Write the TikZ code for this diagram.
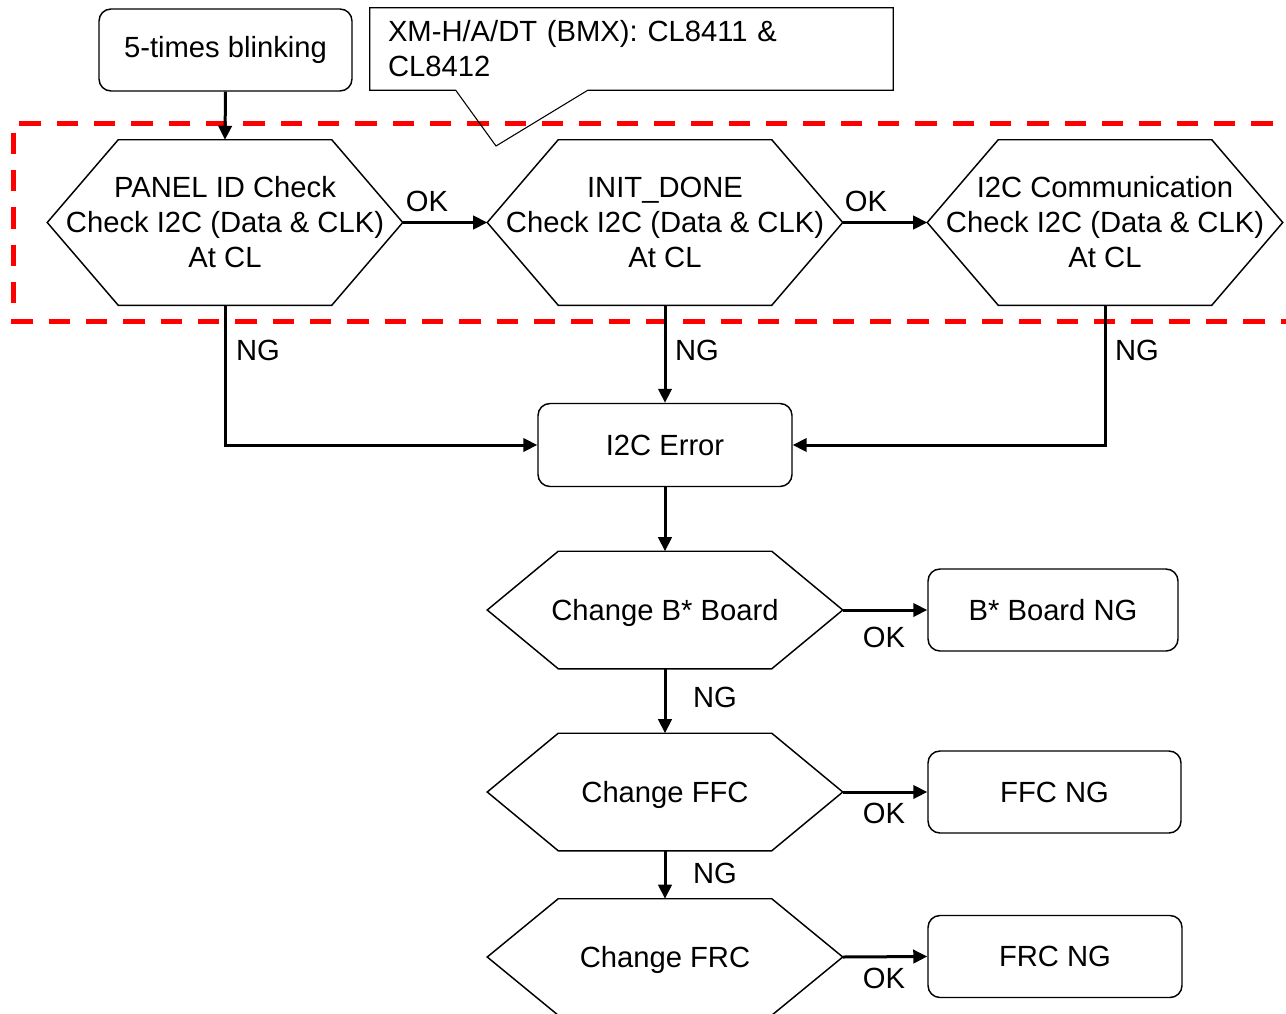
\documentclass[tikz,border=0pt]{standalone}
\usepackage{fontspec}
\setmainfont{Liberation Sans}
\usetikzlibrary{calc,arrows.meta}
\newcommand\lblfont{\fontsize{21.9}{26.25}\selectfont}
\newcommand\hexoutline[2]{%
  \draw[hexline] ($(#1.north west)+(#2,0)$) -- ($(#1.north east)+(-#2,0)$) -- (#1.east)
    -- ($(#1.south east)+(-#2,0)$) -- ($(#1.south west)+(#2,0)$) -- (#1.west) -- cycle;}
\begin{document}
\begin{tikzpicture}[x=0.75pt,y=-0.75pt,
  hexline/.style={draw, line width=1.1pt, line join=miter},
  hexnode/.style={inner sep=0pt, align=center, font=\lblfont, minimum width={355*0.75pt}},
  rbox/.style={draw, line width=1.1pt, rounded corners=9pt, align=center, font=\lblfont, inner sep=0pt},
  conn/.style={line width=2.25pt, -{Triangle[length=10.5pt,width=10pt]}},
  lab/.style={font=\lblfont, inner sep=0pt},
  groupbox/.style={draw=red, line width=3.75pt, dash pattern=on 16pt off 12pt}
]
\useasboundingbox (0,0) rectangle (1286,1014);
\clip (0,0) rectangle (1286,1014);

% red dashed group
\draw[groupbox] (1310,123) -- (13,123) -- (13,321) -- (1310,321);

% start box
\node[rbox, minimum width={253*0.75pt}, minimum height={82*0.75pt}] (blink) at (225.5,50) {5-times blinking};

% callout
\node[inner xsep=0pt, text width={487*0.75pt}, align=left, font=\lblfont,
      minimum width={523*0.75pt}, minimum height={82*0.75pt}] (callout) at (631.5,49)
      {XM-H/A/DT (BMX): CL8411 \&\\CL8412};
\coordinate (ctip) at (496,146);
\draw[line width=0.8pt] ($(callout.south west)+(86,0)$) -- (callout.south west) -- (callout.north west)
  -- (callout.north east) -- (callout.south east) -- ($(callout.south west)+(218,0)$)
  -- (ctip) -- cycle;

% top row hexagons
\node[hexnode, minimum height={165*0.75pt}] (h1) at (225,222.5) {PANEL ID Check\\Check I2C (Data \& CLK)\\At CL};
\node[hexnode, minimum height={165*0.75pt}] (h2) at (665,222.5) {INIT\_DONE\\Check I2C (Data \& CLK)\\At CL};
\node[hexnode, minimum height={165*0.75pt}] (h3) at (1105,222.5) {I2C Communication\\Check I2C (Data \& CLK)\\At CL};
\hexoutline{h1}{71}
\hexoutline{h2}{71}
\hexoutline{h3}{71}

% error box
\node[rbox, minimum width={254*0.75pt}, minimum height={83*0.75pt}] (err) at (665,445) {I2C Error};

% lower hexagons
\node[hexnode, text depth=0pt, minimum height={117*0.75pt}] (hb) at (665,610) {Change B* Board};
\node[hexnode, text depth=0pt, minimum height={117*0.75pt}] (hf) at (665,792) {Change FFC};
\node[hexnode, text depth=0pt, minimum height={116*0.75pt}] (hr) at (665,957) {Change FRC};
\hexoutline{hb}{71}
\hexoutline{hf}{71}
\hexoutline{hr}{71}

% result boxes
\node[rbox, minimum width={250*0.75pt}, minimum height={82*0.75pt}] (bb) at (1053,610) {B* Board NG};
\node[rbox, minimum width={253*0.75pt}, minimum height={82*0.75pt}] (ffc) at (1054.5,792) {FFC NG};
\node[rbox, minimum width={254*0.75pt}, minimum height={82*0.75pt}] (frc) at (1055,956.5) {FRC NG};

% connectors
\draw[conn] (blink.south) -- (h1.north);
\draw[conn] (h1.east) -- (h2.west);
\draw[conn] (h2.east) -- (h3.west);
\draw[conn] (h1.south) |- (err.west);
\draw[conn] (h2.south) -- (err.north);
\draw[conn] (h3.south) |- (err.east);
\draw[conn] (err.south) -- (hb.north);
\draw[conn] (hb.east) -- (bb.west);
\draw[conn] (hb.south) -- (hf.north);
\draw[conn] (hf.east) -- (ffc.west);
\draw[conn] (hf.south) -- (hr.north);
\draw[conn] (hr.east) -- (frc.west);

% labels
\node[lab] (ok1) at (427,201) {OK};
\node[lab] (ok2) at (866,201) {OK};
\node[lab] (ng1) at (258,350) {NG};
\node[lab] (ng2) at (697,350) {NG};
\node[lab] (ng3) at (1137,350) {NG};
\node[lab] (ok3) at (884,637) {OK};
\node[lab] (ng4) at (715,697) {NG};
\node[lab] (ok4) at (884,813) {OK};
\node[lab] (ng5) at (715,873) {NG};
\node[lab] (ok5) at (884,978) {OK};
\end{tikzpicture}
\end{document}
